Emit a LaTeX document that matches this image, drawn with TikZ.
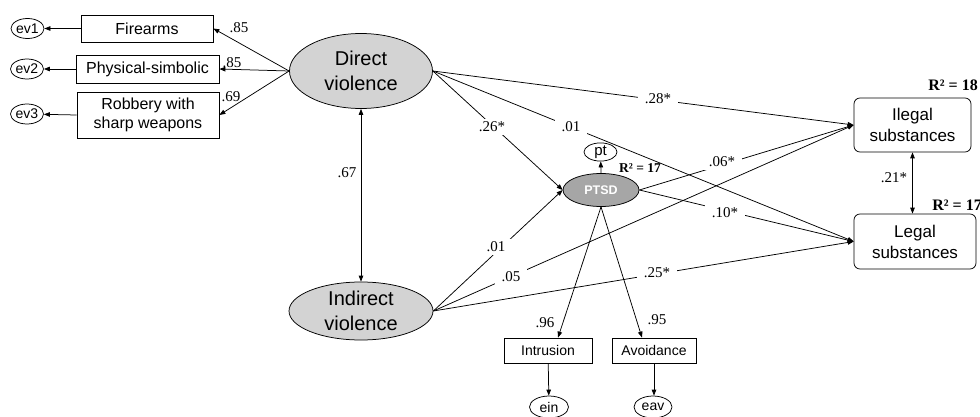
\documentclass[tikz,border=0pt]{standalone}
\usepackage{fontspec}
\setmainfont{Liberation Serif}
\setsansfont{Liberation Sans}
\usetikzlibrary{arrows.meta,shapes.geometric}
\definecolor{latentgray}{RGB}{211,211,211}
\definecolor{ptsdgray}{RGB}{166,166,166}

\begin{document}
\begin{tikzpicture}[x=1pt, y=-1pt, line width=0.75pt,
    latent/.style={ellipse, draw, fill=latentgray, align=center, inner sep=0pt,
        font=\sffamily\fontsize{20}{25}\selectfont},
    observed/.style={rectangle, draw, align=center, inner sep=0pt,
        font=\sffamily\fontsize{16}{19}\selectfont},
    outcome/.style={observed, rounded corners=6pt, font=\sffamily\fontsize{17}{21}\selectfont},
    errterm/.style={ellipse, draw, inner sep=0pt, font=\sffamily\fontsize{14}{16}\selectfont},
    coef/.style={inner sep=1pt, font=\fontsize{15}{17}\selectfont},
    cutcoef/.style={coef, fill=white, inner xsep=7pt, inner ysep=3pt},
    rsq/.style={inner sep=0pt, font=\bfseries\fontsize{13.5}{15}\selectfont},
    link/.style={-{Triangle[length=6pt,width=4.5pt]}},
    twoway/.style={{Triangle[length=6pt,width=4.5pt]}-{Triangle[length=6pt,width=4.5pt]}}]
    \useasboundingbox (0,0) rectangle (980,417);

    % latent variables
    \node[latent, minimum width=143pt, minimum height=75pt] (dv) at (361,71) {Direct\\violence};
    \node[latent, minimum width=144pt, minimum height=58pt] (iv) at (361,311) {Indirect\\violence};
    \node[latent, fill=ptsdgray, text=white, minimum width=76pt, minimum height=33pt,
        font=\sffamily\bfseries\fontsize{12.5}{14}\selectfont] (ptsd) at (601,190) {PTSD};

    % indicators
    \node[observed, minimum width=132pt, minimum height=27pt] (fire) at (147,28.5) {Firearms};
    \node[observed, minimum width=143pt, minimum height=28pt] (phys) at (147.5,69) {Physical-simbolic};
    \node[observed, minimum width=142pt, minimum height=46pt] (rob) at (148,115) {Robbery with\\sharp weapons};
    \node[observed, minimum width=88pt, minimum height=25pt, font=\sffamily\fontsize{14}{16}\selectfont] (intr) at (548,350.5) {Intrusion};
    \node[observed, minimum width=84pt, minimum height=25pt, font=\sffamily\fontsize{14}{16}\selectfont] (avoid) at (654,350.5) {Avoidance};

    % outcomes
    \node[outcome, minimum width=117pt, minimum height=54pt] (ileg) at (912.5,125) {Ilegal\\substances};
    \node[outcome, minimum width=122pt, minimum height=55pt] (leg) at (915,241.5) {Legal\\substances};

    % error terms
    \node[errterm, minimum width=33pt, minimum height=20pt] (ev1) at (27.5,28.5) {ev1};
    \node[errterm, minimum width=33pt, minimum height=20pt] (ev2) at (27,69) {ev2};
    \node[errterm, minimum width=33pt, minimum height=20pt] (ev3) at (27,114) {ev3};
    \node[errterm, minimum width=33pt, minimum height=16pt, font=\sffamily\fontsize{15}{16}\selectfont] (pt) at (600.5,152) {pt};
    \node[errterm, minimum width=39pt, minimum height=22pt] (ein) at (549,407) {ein};
    \node[errterm, minimum width=38pt, minimum height=22pt] (eav) at (653,407) {eav};

    % measurement paths
    \foreach \b/\e in {fire/ev1, phys/ev2, rob/ev3} {
        \draw[link] (\b.west) -- (\e);
        \draw[link] (dv.west) -- (\b.east);
    }
    \draw[link] (ptsd.north) -- (pt);
    \draw[link] (ptsd.south) -- ([xshift=10pt]intr.north);
    \draw[link] (ptsd.south) -- ([xshift=-12pt]avoid.north);
    \draw[link] (intr) -- (ein);
    \draw[link] (avoid.south) -- (avoid.south |- eav.north);

    % structural paths
    \foreach \t in {ileg, leg, ptsd} {
        \draw[link] (dv.east) -- (\t.west);
        \draw[link] (iv.east) -- (\t.west);
    }
    \draw[link] (ptsd.east) -- (ileg.west);
    \draw[link] (ptsd.east) -- (leg.west);
    \draw[twoway] (dv) -- (iv);
    \draw[twoway] (ileg.south) -- (ileg.south |- leg.north);

    % coefficients
    \node[coef] (l1) at (239,28) {.85};
    \node[coef] (l2) at (232,63) {.85};
    \node[coef] (l3) at (231,97) {.69};
    \node[coef] (cor1) at (347,173) {.67};
    \node[coef] (cor2) at (894,178) {.21*};
    \node[coef] (l4) at (545,323) {.96};
    \node[coef] (l5) at (657,320) {.95};
    \node[cutcoef] (b1) at (658,99) {.28*};
    \node[cutcoef] (b2) at (571,127) {.01};
    \node[cutcoef] (b3) at (492,127) {.26*};
    \node[cutcoef] (b4) at (496,247) {.01};
    \node[cutcoef] (b5) at (511,277) {.05};
    \node[cutcoef] (b6) at (657,273) {.25*};
    \node[cutcoef] (b7) at (722,162) {.06*};
    \node[cutcoef] (b8) at (725,213) {.10*};

    % explained variance
    \node[rsq] (r1) at (640,168) {R² = 17};
    \node[rsq, anchor=west, font=\bfseries\fontsize{16}{18}\selectfont] (r2) at (928,85) {R² = 18};
    \node[rsq, anchor=west, font=\bfseries\fontsize{16}{18}\selectfont] (r3) at (932,205) {R² = 17};
\end{tikzpicture}
\end{document}
